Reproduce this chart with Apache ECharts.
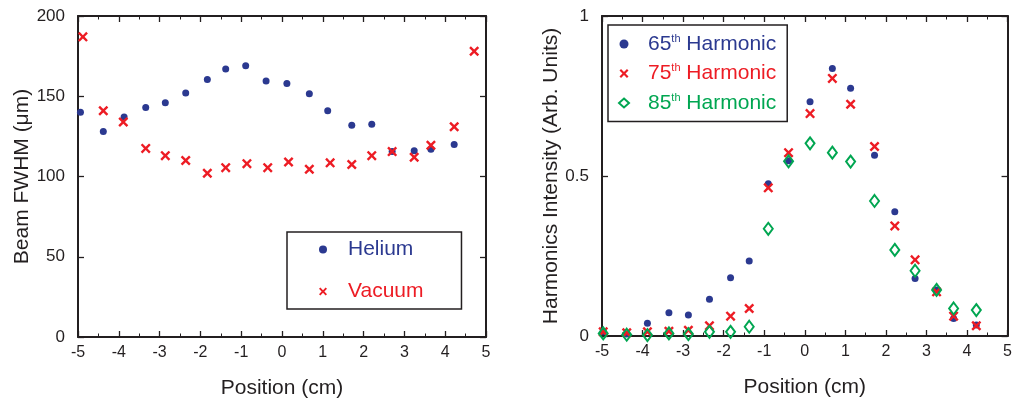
<!DOCTYPE html>
<html>
<head>
<meta charset="utf-8">
<script src="https://cdn.jsdelivr.net/npm/echarts@6/dist/echarts.min.js"></script>
<style>
  html, body { margin: 0; padding: 0; background: #fff; }
  #chart { width: 1015px; height: 408px; }
</style>
</head>
<body>
<div id="chart"></div>
<script>
// left panel: beam FWHM vs position
var heliumX = [-4.94, -4.38, -3.87, -3.34, -2.86, -2.36, -1.83, -1.38, -0.89, -0.39, 0.12, 0.67, 1.12, 1.71, 2.20, 2.70, 3.24, 3.65, 4.22];
var heliumY = [140, 128, 137, 143, 146, 152, 160.5, 167, 169, 159.5, 158, 151.5, 141, 132, 132.5, 115.5, 116, 117, 120];
var vacuumX = [-4.88, -4.38, -3.89, -3.34, -2.86, -2.36, -1.83, -1.38, -0.86, -0.35, 0.16, 0.67, 1.18, 1.71, 2.20, 2.70, 3.24, 3.65, 4.22, 4.71];
var vacuumY = [187, 141, 134, 117.5, 113, 110, 102, 105.5, 108, 105.5, 109, 104.5, 108.5, 107.5, 113, 115.5, 112, 119.5, 131, 178];

// right panel: harmonic intensity vs position
var harmX = [-4.97, -4.39, -3.88, -3.35, -2.87, -2.35, -1.83, -1.37, -0.90, -0.40, 0.13, 0.68, 1.13, 1.72, 2.22, 2.72, 3.25, 3.67, 4.23];
var h65 = [0.013, 0.006, 0.040, 0.073, 0.066, 0.115, 0.182, 0.234, 0.476, 0.548, 0.732, 0.836, 0.774, 0.565, 0.388, 0.180, 0.144, 0.055, 0.034];
var h75 = [0.013, 0.010, 0.013, 0.015, 0.018, 0.032, 0.062, 0.086, 0.463, 0.573, 0.695, 0.805, 0.724, 0.592, 0.344, 0.238, 0.138, 0.062, 0.032];
var h85 = [0.008, 0.004, 0.003, 0.008, 0.006, 0.013, 0.013, 0.029, 0.335, 0.546, 0.602, 0.573, 0.545, 0.422, 0.269, 0.204, 0.144, 0.086, 0.081];

var xTicks = [-5, 5, 1];
var leftYTicks = [0, 200, 50];
var rightYTicks = [0, 1, 0.5];

var BLUE = '#2b3990', RED = '#ed1c24', GREEN = '#00a651', INK = '#231f20';
var FONT = '"Liberation Sans", Arial, sans-serif';
var CROSS = 'path://M0,1.7L1.7,0L5,3.3L8.3,0L10,1.7L6.7,5L10,8.3L8.3,10L5,6.7L1.7,10L0,8.3L3.3,5Z';

function zip(xs, ys) {
	return xs.map(function (x, i) { return [x, ys[i]]; });
}

function xAxisDef(grid, pos, r) {
	return {
		type: 'value', gridIndex: grid, position: pos,
		min: r[0], max: r[1], interval: r[2],
		name: pos === 'bottom' ? 'Position (cm)' : '',
		nameLocation: 'middle', nameGap: 41,
		nameTextStyle: { fontFamily: FONT, fontSize: 21, color: INK },
		axisLine: { show: true, onZero: false, lineStyle: { color: INK, width: 2 } },
		axisTick: { show: true, inside: true, length: 6, lineStyle: { color: INK, width: 1.3 } },
		minorTick: { show: true, splitNumber: 2, length: 3.5, lineStyle: { color: INK, width: 1 } },
		axisLabel: { show: pos === 'bottom', fontFamily: FONT, fontSize: 16, color: INK, margin: 8 },
		splitLine: { show: false }
	};
}

function yAxisDef(grid, pos, r, title, gap) {
	return {
		type: 'value', gridIndex: grid, position: pos,
		min: r[0], max: r[1], interval: r[2],
		name: pos === 'left' ? title : '',
		nameLocation: 'middle', nameGap: gap,
		nameTextStyle: { fontFamily: FONT, fontSize: 21, color: INK },
		axisLine: { show: true, onZero: false, lineStyle: { color: INK, width: 2 } },
		axisTick: { show: true, inside: true, length: 6, lineStyle: { color: INK, width: 1.3 } },
		axisLabel: { show: pos === 'left', fontFamily: FONT, fontSize: 17, color: INK, margin: 13 },
		splitLine: { show: false }
	};
}

var chart = echarts.init(document.getElementById('chart'));

// legend text, with superscript "th"
var legendNames = {
	'Helium': '{sp|}{b|Helium}',
	'Vacuum': '{sp|}{r|Vacuum}',
	'65th Harmonic': '{sp2|}{b|65}{bs|th}{b| Harmonic}',
	'75th Harmonic': '{sp2|}{r|75}{rs|th}{r| Harmonic}',
	'85th Harmonic': '{sp2|}{g|85}{gs|th}{g| Harmonic}'
};
var rich = {
	sp: { width: 15 },
	sp2: { width: 14 },
	b: { color: BLUE, fontSize: 21, fontFamily: FONT, lineHeight: 22 },
	r: { color: RED, fontSize: 21, fontFamily: FONT, lineHeight: 22 },
	g: { color: GREEN, fontSize: 21, fontFamily: FONT, lineHeight: 22 },
	bs: { color: BLUE, fontSize: 11, fontFamily: FONT, verticalAlign: 'top', lineHeight: 22, padding: [0, 0, 8, 0] },
	rs: { color: RED, fontSize: 11, fontFamily: FONT, verticalAlign: 'top', lineHeight: 22, padding: [0, 0, 8, 0] },
	gs: { color: GREEN, fontSize: 11, fontFamily: FONT, verticalAlign: 'top', lineHeight: 22, padding: [0, 0, 8, 0] }
};

var option = {
	animation: false,
	backgroundColor: '#fff',
	grid: [
		{ left: 78, top: 16, width: 408, height: 321 },
		{ left: 602, top: 16, width: 407, height: 320 }
	],
	xAxis: [
		xAxisDef(0, 'bottom', xTicks), xAxisDef(0, 'top', xTicks),
		xAxisDef(1, 'bottom', xTicks), xAxisDef(1, 'top', xTicks)
	],
	yAxis: [
		yAxisDef(0, 'left', leftYTicks, 'Beam FWHM (\u03bcm)', 42), yAxisDef(0, 'right', leftYTicks, '', 0),
		yAxisDef(1, 'left', rightYTicks, 'Harmonics Intensity (Arb. Units)', 38), yAxisDef(1, 'right', rightYTicks, '', 0)
	],
	legend: [
		{
			data: ['Helium', 'Vacuum'], orient: 'vertical', left: 287, top: 232,
			itemWidth: 10, itemHeight: 8, itemGap: 21,
			padding: [7, 38, 7, 32],
			borderColor: INK, borderWidth: 1.5,
			formatter: function (n) { return legendNames[n]; },
			textStyle: { rich: rich }
		},
		{
			data: ['65th Harmonic', '75th Harmonic', '85th Harmonic'], orient: 'vertical', left: 608, top: 25,
			itemWidth: 10, itemHeight: 9, itemGap: 8,
			padding: [8, 11, 8, 10],
			borderColor: INK, borderWidth: 1.5,
			formatter: function (n) { return legendNames[n]; },
			textStyle: { rich: rich }
		}
	],
	series: [
		{
			name: 'Helium', type: 'scatter', xAxisIndex: 0, yAxisIndex: 0,
			symbol: 'circle', symbolSize: 7, itemStyle: { color: BLUE, opacity: 1 },
			data: zip(heliumX, heliumY)
		},
		{
			name: 'Vacuum', type: 'scatter', xAxisIndex: 0, yAxisIndex: 0,
			symbol: CROSS, symbolSize: 10, itemStyle: { color: RED, opacity: 1 },
			data: zip(vacuumX, vacuumY)
		},
		{
			name: '65th Harmonic', type: 'scatter', xAxisIndex: 2, yAxisIndex: 2,
			symbol: 'circle', symbolSize: 7, itemStyle: { color: BLUE, opacity: 1 },
			data: zip(harmX, h65)
		},
		{
			name: '75th Harmonic', type: 'scatter', xAxisIndex: 2, yAxisIndex: 2,
			symbol: CROSS, symbolSize: 10, itemStyle: { color: RED, opacity: 1 },
			data: zip(harmX, h75)
		},
		{
			name: '85th Harmonic', type: 'scatter', xAxisIndex: 2, yAxisIndex: 2,
			symbol: 'diamond', symbolSize: [9, 12],
			itemStyle: { color: 'rgba(255,255,255,0)', borderColor: GREEN, borderWidth: 2, opacity: 1 },
			data: zip(harmX, h85)
		}
	]
};

chart.setOption(option);
</script>
</body>
</html>
